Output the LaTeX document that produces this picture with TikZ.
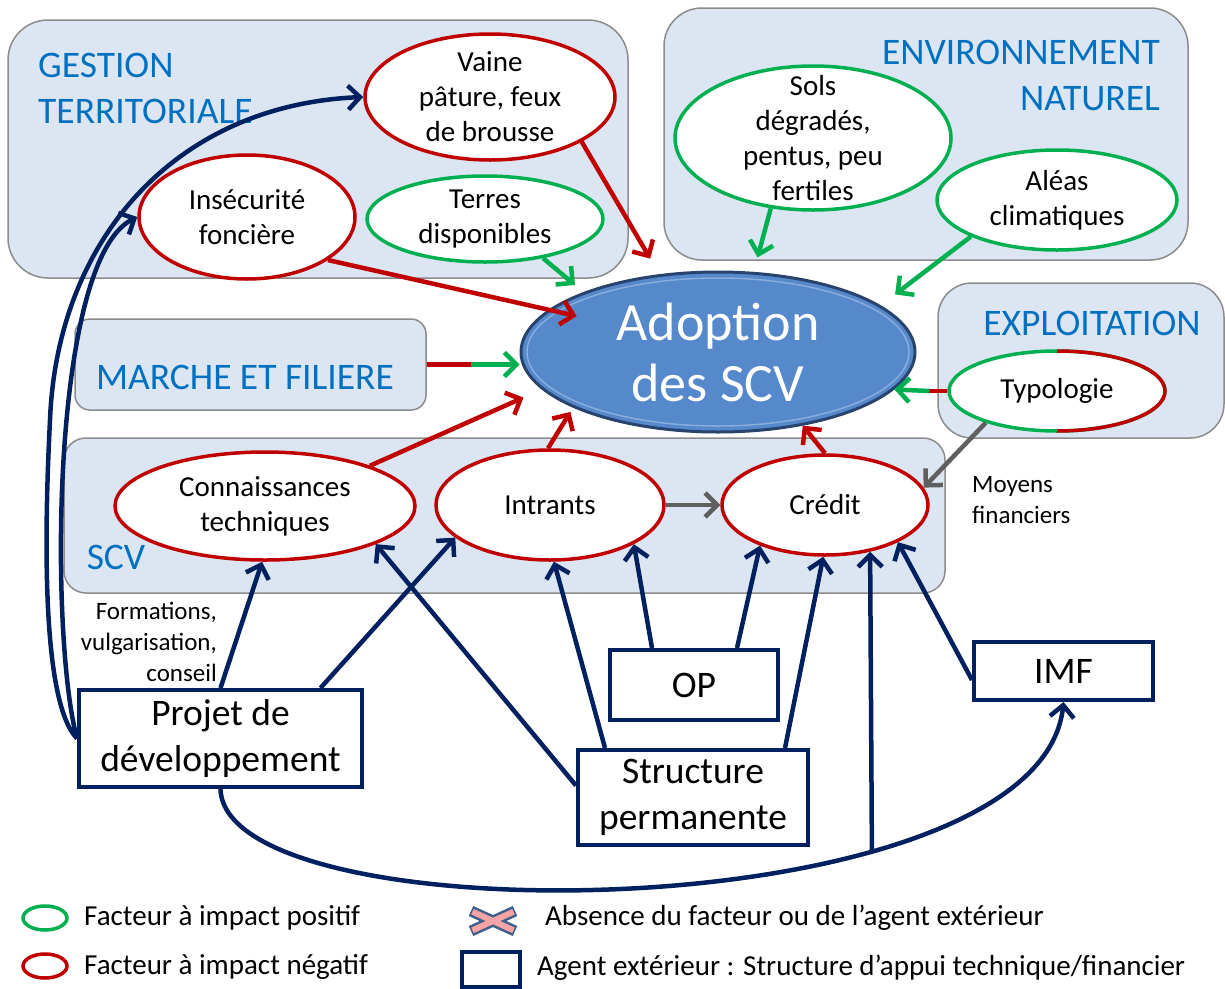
\documentclass[tikz,border=0pt]{standalone}
\usepackage{fontspec}
\setmainfont{Carlito}
\usetikzlibrary{arrows.meta,shapes.geometric,calc}
\definecolor{zonefill}{RGB}{220,230,242}
\definecolor{zoneline}{RGB}{140,140,140}
\definecolor{titleblue}{RGB}{0,112,192}
\definecolor{kored}{RGB}{192,0,0}
\definecolor{okgreen}{RGB}{0,176,80}
\definecolor{navy}{RGB}{0,32,96}
\definecolor{arrowgrey}{RGB}{95,95,95}
\definecolor{adoptfill}{RGB}{85,137,203}
\definecolor{adoptline}{RGB}{40,68,110}
\definecolor{crossfill}{RGB}{244,164,164}
\definecolor{crossline}{RGB}{62,94,140}

\begin{document}
\begin{tikzpicture}[x=1pt, y=-1pt,
    zone/.style={draw=zoneline, line width=1.5pt, fill=zonefill, rounded corners=#1, inner sep=0pt},
    head/.style={text=titleblue, font=\fontsize{37.5}{46}\selectfont, inner sep=0pt},
    main/.style={ellipse, draw=#1, fill=white, line width=3.5pt, inner xsep=0pt, inner ysep=-16pt, align=center, font=\fontsize{29}{35}\selectfont},
    agent/.style={draw=navy, fill=white, line width=4pt, inner sep=0pt, align=center, font=\fontsize{37.5}{46}\selectfont},
    note/.style={inner sep=0pt, font=\fontsize{25}{31}\selectfont},
    leg/.style={inner sep=0pt, anchor=west, font=\fontsize{29}{35}\selectfont},
    arr/.style={draw=#1, line width=4.5pt, -{Straight Barb[length=12pt,width=24pt]}}]

    \useasboundingbox (0,0) rectangle (1225,988);

    \node[zone=40pt, minimum width=620, minimum height=258] (gestion) at (318,149) {};
    \node[zone=38pt, minimum width=524, minimum height=252] (envir) at (926,134) {};
    \node[zone=34pt, minimum width=286, minimum height=155] (exploit) at (1081,360.5) {};
    \node[zone=15pt, minimum width=351, minimum height=91] (marche) at (250.5,364.5) {};
    \node[zone=22pt, minimum width=881, minimum height=155] (scv) at (504.5,515.5) {};

    \node[head, anchor=west, align=left] (h1) at (38,88) {GESTION\\TERRITORIALE};
    \node[head, anchor=east, align=right] (h2) at (1160,75) {ENVIRONNEMENT\\NATUREL};
    \node[head] (h3) at (1092,323) {EXPLOITATION};
    \node[head] (h4) at (245,377) {MARCHE ET FILIERE};
    \node[head] (h5) at (116,557) {SCV};

    \node[main=kored, minimum width=250, minimum height=126] (vaine) at (490,97) {Vaine\\pâture, feux\\de brousse};
    \node[main=kored, minimum width=216, minimum height=124] (insec) at (247,217) {Insécurité\\foncière};
    \node[main=okgreen, minimum width=236, minimum height=86] (terres) at (485,219) {Terres\\disponibles};
    \node[main=okgreen, minimum width=276, minimum height=144] (sols) at (813,138) {Sols\\dégradés,\\pentus, peu\\fertiles};
    \node[main=okgreen, minimum width=240, minimum height=100] (aleas) at (1057,200) {Aléas\\climatiques};
    \node[main=okgreen, minimum width=216, minimum height=80] (typo) at (1057,391) {Typologie};
    \draw[kored, line width=3.5pt] ([yshift=40pt]typo.center) arc[start angle=90, end angle=-90, x radius=108pt, y radius=40pt];
    \node[main=kored, minimum width=300, minimum height=108] (conn) at (265,506) {Connaissances\\techniques};
    \node[main=kored, minimum width=228, minimum height=110] (intr) at (550,505) {Intrants};
    \node[main=kored, minimum width=206, minimum height=100] (cred) at (825,505) {Crédit};

    \node[ellipse, draw=adoptline, fill=adoptfill, line width=3pt, minimum width=394, minimum height=160, inner sep=0pt, inner ysep=-10pt, text=white, align=center, font=\fontsize{54}{61}\selectfont] (adopt) at (718,352) {Adoption\\des SCV};
    \draw[adoptfill!70!white, line width=1.5pt] (adopt.center) ellipse[x radius=191pt, y radius=74pt];

    \node[agent, minimum width=283, minimum height=97] (projet) at (220.5,738.5) {Projet de\\développement};
    \node[agent, minimum width=168, minimum height=70] (op) at (694,685) {OP};
    \node[agent, minimum width=179, minimum height=58] (imf) at (1063.5,671) {IMF};
    \node[agent, minimum width=230, minimum height=95] (struct) at (693,797.5) {Structure\\permanente};

    \node[note, anchor=east, align=right] (form) at (217,642) {Formations,\\vulgarisation,\\conseil};
    \node[note, anchor=west, align=left] (moyens) at (972,500) {Moyens\\financiers};

    \draw[arr=kored, shorten >=18pt] (vaine.-26) -- (adopt.127);
    \draw[arr=kored, shorten >=-29pt] (insec.-28) -- (adopt.166);
    \draw[arr=okgreen, shorten >=11pt] (terres.-34) -- (adopt.156);
    \draw[arr=okgreen, shorten >=15pt] (sols.-121) -- (adopt.66);
    \draw[arr=okgreen, shorten >=18pt] (aleas.-157) -- (adopt.16);
    \coordinate (mf) at ($(marche.east)+(44,0)$);
    \draw[kored, line width=4.5pt] (marche.east) -- (mf);
    \draw[arr=okgreen] (mf) -- (mf -| adopt.west);
    \coordinate (tp) at ($(typo.west)+(-18,0)$);
    \draw[kored, line width=4.5pt] (typo.west) -- (tp);
    \draw[arr=okgreen] (tp) -- (adopt.-12.5);
    \draw[arr=kored, shorten >=20pt] (conn.21) -- (adopt.192);
    \draw[arr=kored, shorten >=5pt] (intr.92) -- (adopt.201);
    \draw[arr=kored] (cred.90) -- (adopt.-41.5);

    \draw[arr=arrowgrey] (intr.east) -- (cred.west);
    \draw[arr=arrowgrey] (typo.-156) -- (cred.10);

    \draw[arr=navy] (projet.north) -- (conn.-93);
    \draw[arr=navy] ([xshift=100pt]projet.north) -- (intr.199);
    \draw[arr=navy] ([yshift=12pt]struct.west) -- (conn.-19);
    \draw[arr=navy] ([xshift=-88pt]struct.north) -- (intr.-86);
    \draw[arr=navy] ([xshift=-42pt]op.north) -- (intr.-25);
    \draw[arr=navy] ([xshift=43pt]op.north) -- (cred.-148);
    \draw[arr=navy] ([xshift=92pt]struct.north) -- (cred.-92);
    \draw[arr=navy] ([yshift=-9pt]imf.west) -- (cred.-27);
    \draw[arr=navy] (projet.west) .. controls (40,700) and (45,520) .. (50,420) .. controls (57,240) and (175,105) .. (vaine.west);
    \draw[arr=navy] (projet.west) .. controls (50,640) and (50,260) .. (insec.west);
    \draw[arr=navy] (projet.south) .. controls (225,940) and (1040,930) .. coordinate[pos=0.7] (br) (imf.south);
    \draw[arr=navy] (br) -- (cred.-46);

    \node[main=okgreen, minimum width=44, minimum height=24] (lgpos) at (45,918) {};
    \node[main=kored, minimum width=44, minimum height=24] (lgneg) at (45,966) {};
    \node[leg] (tpos) at (84,918) {Facteur à impact positif};
    \node[leg] (tneg) at (84,967) {Facteur à impact négatif};
    \draw[crossline, line width=11pt] (471,911) -- (515,931) (471,931) -- (515,911);
    \draw[crossfill, line width=6pt] (472.5,911.7) -- (513.5,930.3) (472.5,930.3) -- (513.5,911.7);
    \node[agent, minimum width=58, minimum height=35] (lgagent) at (491,969.5) {};
    \node[leg] (tabs) at (545,918) {Absence du facteur ou de l’agent extérieur};
    \node[leg] (tagent) at (537,968) {Agent extérieur : Structure d’appui technique/financier};
\end{tikzpicture}
\end{document}
